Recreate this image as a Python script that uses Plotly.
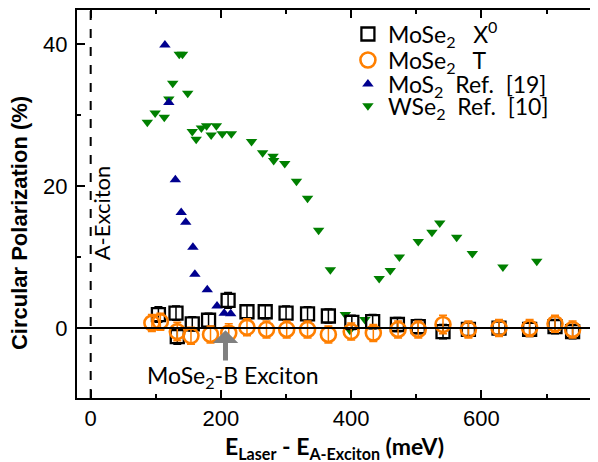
import plotly.graph_objects as go

# ---- data ----
x0_x = [104, 131, 133, 156, 181, 211, 240, 268, 300, 333, 365, 401, 433, 471, 503, 541, 580, 627, 674, 713, 740]
x0_y = [1.9, 2.1, -1.2, 0.6, 1.1, 3.9, 2.3, 2.3, 2.1, 2.0, 1.7, 0.8, 0.9, 0.5, 0.2, -0.5, -0.2, 0.0, -0.2, 0.2, -0.5]
x0_err = [1.1, 1.0, 1.1, 1.0, 1.0, 1.1, 1.0, 1.0, 1.0, 1.0, 1.0, 1.0, 1.0, 1.0, 1.0, 1.0, 1.0, 1.0, 1.0, 1.0, 1.0]

t_x = [94, 107, 133, 154, 184, 212, 240, 270, 301, 333, 365, 400, 434, 472, 503, 541, 580, 627, 674, 713, 740]
t_y = [0.7, 0.9, -0.5, -1.1, -0.9, -0.7, 0.1, -0.2, -0.2, -0.2, -0.9, -0.5, -0.7, -0.2, -0.2, 0.5, -0.2, 0.0, 0.0, 0.6, -0.2]
t_err = [1.2, 1.2, 1.3, 1.2, 1.2, 1.3, 1.2, 1.2, 1.2, 1.2, 1.2, 1.2, 1.2, 1.2, 1.2, 1.3, 1.2, 1.2, 1.2, 1.2, 1.2]

mos2_x = [114, 120, 130, 139, 146, 157, 160, 179, 194, 205, 215]
mos2_y = [39.9, 31.8, 20.9, 16.3, 14.9, 11.4, 7.6, 5.4, 3.1, 2.1, 2.0]

wse2_x = [87, 99, 113, 120, 126, 136, 141, 149, 156, 162, 170, 178, 185, 193, 202, 216,
          247, 264, 280, 281, 298, 316, 333, 350, 368, 391, 398, 421, 443, 460, 474,
          503, 524, 536, 562, 586, 633, 685]
wse2_y = [29.0, 30.3, 29.7, 32.3, 34.5, 38.6, 38.6, 33.1, 27.7, 26.6, 28.2, 28.5, 27.2, 28.5, 27.4, 27.4,
          26.3, 24.7, 24.2, 23.6, 23.2, 20.7, 18.3, 13.8, 8.2, 1.9, -0.3, 1.2, 7.0, 8.1, 10.0,
          12.2, 13.5, 14.8, 12.8, 10.5, 8.6, 9.4]

b_exciton_x = 207
x_range = [-21, 779]
y_range = [-9.86, 44.83]
x_ticks = [0, 200, 400, 600]
x_minor = [100, 300, 500, 700]
y_ticks = [0, 20, 40]
y_minor = [10, 30]

ORANGE = "#ff7f00"
TICKFONT = "Liberation Sans, Arial, sans-serif"
CALFONT = "Lato, Carlito, Calibri, sans-serif"
NB = "\u00a0"

fig = go.Figure()

fig.add_trace(go.Scatter(
    x=wse2_x, y=wse2_y, mode="markers", name=f"WSe<sub>2</sub>{NB}{NB}Ref.{NB}{NB}[10]",
    marker=dict(symbol="triangle-down", size=10, color="#008000"), legend="legend4"))
fig.add_trace(go.Scatter(
    x=mos2_x, y=mos2_y, mode="markers", name=f"MoS<sub>2</sub>{NB}{NB}Ref.{NB}{NB}[19]",
    marker=dict(symbol="triangle-up", size=10, color="#00008f"), legend="legend3"))
fig.add_trace(go.Scatter(
    x=x0_x, y=x0_y, mode="markers", name=f"MoSe<sub>2</sub>{NB}{NB}{NB}X<sup>0</sup>",
    marker=dict(symbol="square-open", size=13, color="black", line=dict(width=2.3)),
    error_y=dict(type="data", array=x0_err, color="black", thickness=1.5, width=4),
    legend="legend"))
fig.add_trace(go.Scatter(
    x=t_x, y=t_y, mode="markers", name=f"MoSe<sub>2</sub>{NB}{NB}{NB}T",
    marker=dict(symbol="circle-open", size=15, color=ORANGE, line=dict(width=2.6)),
    error_y=dict(type="data", array=t_err, color=ORANGE, thickness=1.5, width=4),
    legend="legend2"))

fig.add_hline(y=0, line=dict(color="black", width=2))
fig.add_vline(x=0, line=dict(color="black", width=2, dash="dash"))

fig.add_annotation(x=0, y=16.2, xref="x", yref="y", text="A-Exciton", textangle=-90,
                   showarrow=False, xanchor="left", xshift=-5,
                   font=dict(family=CALFONT, size=22, color="black"))
fig.add_annotation(x=219, y=-6.8, xref="x", yref="y", text="MoSe<sub>2</sub>-B Exciton",
                   showarrow=False, font=dict(family=CALFONT, size=23, color="black"))
fig.add_annotation(x=b_exciton_x, y=-0.3, ax=b_exciton_x, ay=-4.8, xref="x", yref="y",
                   axref="x", ayref="y", text="", showarrow=True, arrowhead=1,
                   arrowsize=0.85, arrowwidth=5, arrowcolor="#808080")

fig.add_annotation(x=0.495, y=-0.128, xref="paper", yref="paper", xanchor="center", yanchor="middle",
                   text="<b>E<sub>Laser</sub> - E<sub>A-Exciton</sub> (meV)</b>", showarrow=False,
                   font=dict(family=CALFONT, size=23, color="black"))
fig.add_annotation(x=-0.11, y=0.45, xref="paper", yref="paper", xanchor="center", yanchor="middle",
                   text="<b>Circular Polarization (%)</b>", textangle=-90, showarrow=False,
                   font=dict(family=TICKFONT, size=22, color="black"))

fig.update_xaxes(range=x_range, showline=True, linecolor="black", linewidth=2, mirror="ticks",
                 ticks="inside", ticklen=8, tickwidth=1.5, tickcolor="black",
                 tickvals=x_ticks, showgrid=False, zeroline=False,
                 minor=dict(tickvals=x_minor, ticks="inside", ticklen=4, tickcolor="black"),
                 tickfont=dict(family=TICKFONT, size=22, color="black"))
fig.update_yaxes(range=y_range, showline=True, linecolor="black", linewidth=2,
                 ticks="inside", ticklen=8, tickwidth=1.5, tickcolor="black",
                 tickvals=y_ticks, showgrid=False, zeroline=False, ticklabelstandoff=3,
                 minor=dict(tickvals=y_minor, ticks="inside", ticklen=4, tickcolor="black"),
                 tickfont=dict(family=TICKFONT, size=22, color="black"))

leg_common = dict(x=0.520, xanchor="left", yanchor="middle", bgcolor="rgba(0,0,0,0)",
                  font=dict(family=CALFONT, size=23, color="black"), itemsizing="trace",
                  borderwidth=0)

# page has an 8px body margin; the figure is sized so the plot lands where the reference has it
fig.update_layout(
    width=590, height=454,
    margin=dict(l=69, r=0, t=2, b=64),
    plot_bgcolor="white", paper_bgcolor="white",
    showlegend=True,
    legend=dict(y=0.938, **leg_common),
    legend2=dict(y=0.871, **leg_common),
    legend3=dict(y=0.809, **leg_common),
    legend4=dict(y=0.753, **leg_common),
)

fig.write_html("out.html")
